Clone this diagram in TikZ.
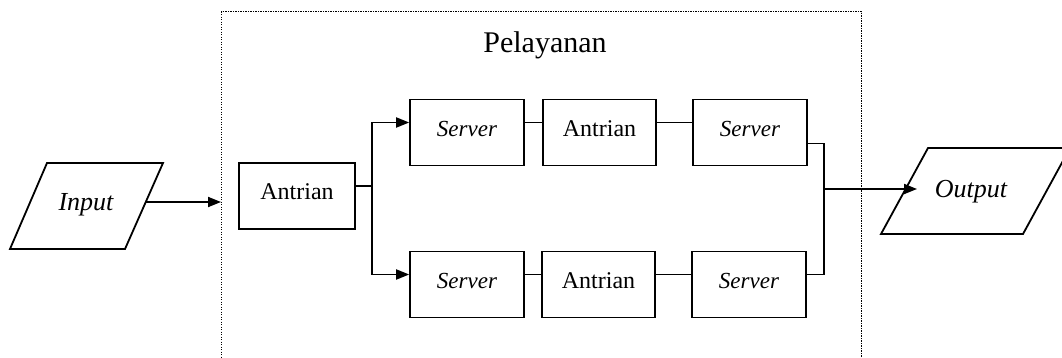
\documentclass[tikz,border=0pt]{standalone}
\usepackage{fontspec}
\setmainfont{Liberation Serif}
\usetikzlibrary{arrows.meta}
\begin{document}
\begin{tikzpicture}[x=1pt,y=1pt,
  box/.style={draw, line width=1.6pt, minimum height=66pt, inner sep=0pt,
    text height=16pt, text depth=8pt, font=\fontsize{24}{28}\selectfont},
  srv/.style={box, minimum width=114pt, font=\fontsize{23}{28}\selectfont\itshape},
  ant/.style={box, minimum width=113pt},
  conn/.style={line width=1.8pt},
  arr/.style={conn, -{Triangle[length=13pt,width=10pt]}},
  io/.style={line width=1.8pt},
  iotext/.style={font=\fontsize{26}{30}\selectfont\itshape},
  pelbox/.style={draw, line width=1.2pt, dash pattern=on 1.2pt off 1.3pt, anchor=north west,
    minimum width=640pt, minimum height=420pt, inner sep=0pt}
]
\useasboundingbox (0,0) rectangle (1062,-358);
\fill[white] (0,0) rectangle (1062,-358);

% service boundary
\node[pelbox] (pel) at (221,-11) {};
\node[font=\fontsize{30}{36}\selectfont] (peltitle) at (545,-45) {Pelayanan};

% input
\draw[io] (10,-249) -- (125,-249) -- (163,-163) -- (47,-163) -- cycle;
\node[iotext] (input) at (86,-205) {Input};
\coordinate (inR) at (145,-202);

% output
\draw[io] (881,-234) -- (1023,-234) -- (1070,-148) -- (928,-148) -- cycle;
\node[iotext] (output) at (971,-192) {Output};
\coordinate (outL) at (917,-189);

% boxes
\node[box, minimum width=116pt] (antL) at (297,-196) {Antrian};
\node[srv] (s1) at (467,-132.5) {Server};
\node[ant] (a1) at (599.5,-132.5) {Antrian};
\node[srv] (s2) at (750,-132.5) {Server};
\node[srv] (s3) at (467,-284.5) {Server};
\node[ant] (a2) at (598.5,-284.5) {Antrian};
\node[srv] (s4) at (749,-284.5) {Server};

\coordinate (split) at (372,-186);
\coordinate (join) at (824,-189);

% connectors
\draw[arr] (inR) -- (pel.west |- inR);
\draw[conn] ([yshift=10pt]antL.east) -- (split);
\draw[arr] (split) |- ([yshift=10pt]s1.west);
\draw[arr] (split) |- ([yshift=10pt]s3.west);
\draw[conn] ([yshift=10pt]s1.east) -- ([yshift=10pt]a1.west);
\draw[conn] ([yshift=10pt]a1.east) -- ([yshift=10pt]s2.west);
\draw[conn] ([yshift=10pt]s3.east) -- ([yshift=10pt]a2.west);
\draw[conn] ([yshift=10pt]a2.east) -- ([yshift=10pt]s4.west);
\draw[conn] ([yshift=-11pt]s2.east) -| (join);
\draw[conn] ([yshift=10pt]s4.east) -| (join);
\draw[arr] (join) -- (outL);
\end{tikzpicture}
\end{document}
